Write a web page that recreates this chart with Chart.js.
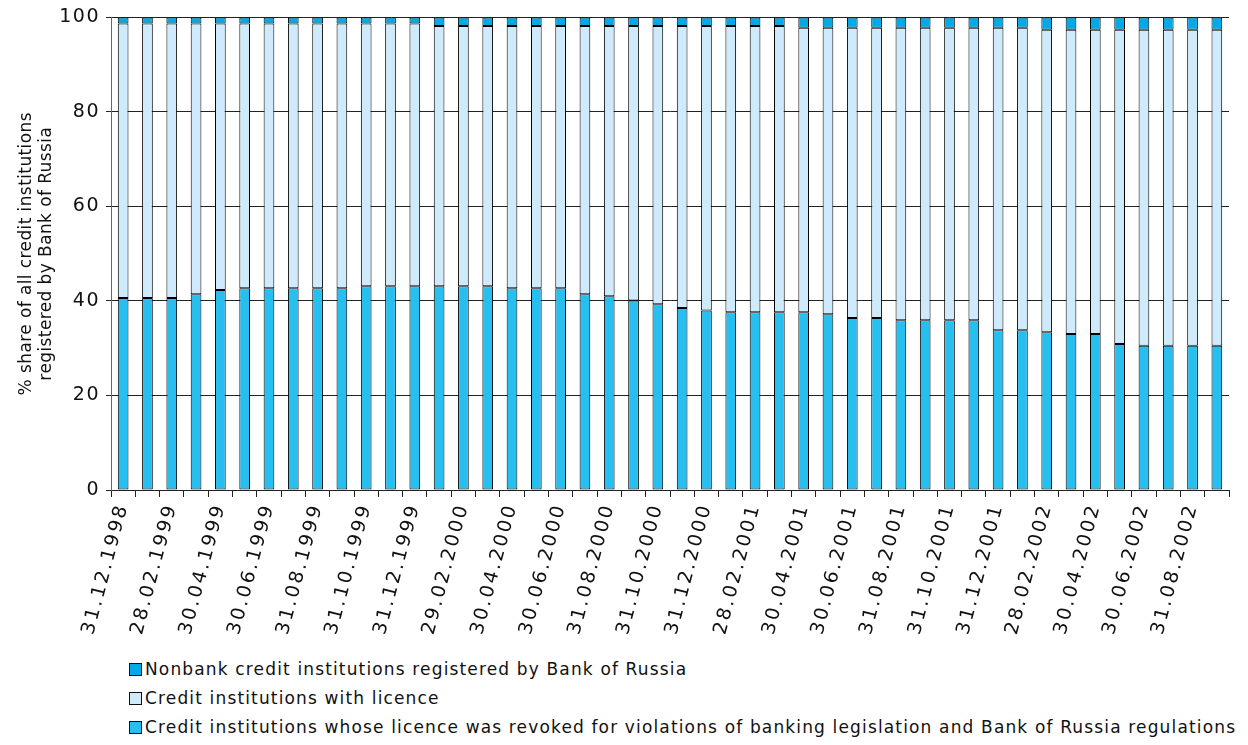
<!DOCTYPE html>
<html>
<head>
  <meta charset="UTF-8">
  <title>Credit institutions registered by Bank of Russia</title>
  <script src="https://cdn.jsdelivr.net/npm/chart.js"></script>
  <style>
    body {
      margin: 0;
      background: #fff;
      font-family: "DejaVu Sans", sans-serif;
    }
    #wrap {
      position: relative;
      width: 1248px;
      height: 745px;
    }
    #box {
      position: absolute;
      left: 0;
      top: 0;
      width: 1248px;
      height: 650px;
    }
    #legend {
      position: absolute;
      left: 129px;
      top: 655px;
      font-size: 17px;
      letter-spacing: 1.15px;
      color: #111;
    }
    .item {
      height: 29px;
      line-height: 29px;
      white-space: nowrap;
    }
    .sw {
      display: inline-block;
      width: 11px;
      height: 11px;
      border: 1px solid #111;
      margin-right: 3px;
      vertical-align: -1px;
    }
  </style>
</head>
<body>
<div id="wrap">
  <div id="box"><canvas id="barChart"></canvas></div>
  <div id="legend"></div>
</div>

<script>
  // monthly dates, Dec 1998 - Sep 2002
  const dates = [
    '31.12.1998',
    '31.01.1999', '28.02.1999', '31.03.1999', '30.04.1999', '31.05.1999', '30.06.1999',
    '31.07.1999', '31.08.1999', '30.09.1999', '31.10.1999', '30.11.1999', '31.12.1999',
    '31.01.2000', '29.02.2000', '31.03.2000', '30.04.2000', '31.05.2000', '30.06.2000',
    '31.07.2000', '31.08.2000', '30.09.2000', '31.10.2000', '30.11.2000', '31.12.2000',
    '31.01.2001', '28.02.2001', '31.03.2001', '30.04.2001', '31.05.2001', '30.06.2001',
    '31.07.2001', '31.08.2001', '30.09.2001', '31.10.2001', '30.11.2001', '31.12.2001',
    '31.01.2002', '28.02.2002', '31.03.2002', '30.04.2002', '31.05.2002', '30.06.2002',
    '31.07.2002', '31.08.2002', '30.09.2002'
  ];

  // % shares
  const revoked = [
    40.6, 40.6, 40.6, 41.4, 42.3, 42.7, 42.7, 42.7, 42.7, 42.7, 43.1, 43.1, 43.1,
    43.1, 43.1, 43.1, 42.7, 42.7, 42.7, 41.4, 41.0, 40.1, 39.3, 38.5, 38.0, 37.6,
    37.6, 37.6, 37.6, 37.2, 36.4, 36.4, 35.9, 35.9, 35.9, 35.9, 33.8, 33.8, 33.4,
    33.0, 33.0, 30.9, 30.5, 30.5, 30.5, 30.5
  ];
  const withLicence = [
    58.1, 58.1, 58.1, 57.3, 56.4, 56.0, 56.0, 56.0, 56.0, 56.0, 55.6, 55.6, 55.6,
    55.1, 55.1, 55.1, 55.5, 55.5, 55.5, 56.8, 57.2, 58.1, 58.9, 59.7, 60.2, 60.6,
    60.6, 60.6, 60.2, 60.6, 61.4, 61.4, 61.9, 61.9, 61.9, 61.9, 64.0, 64.0, 64.0,
    64.4, 64.4, 66.5, 66.9, 66.9, 66.9, 66.9
  ];
  const nonbank = [
    1.3, 1.3, 1.3, 1.3, 1.3, 1.3, 1.3, 1.3, 1.3, 1.3, 1.3, 1.3, 1.3,
    1.8, 1.8, 1.8, 1.8, 1.8, 1.8, 1.8, 1.8, 1.8, 1.8, 1.8, 1.8, 1.8,
    1.8, 1.8, 2.2, 2.2, 2.2, 2.2, 2.2, 2.2, 2.2, 2.2, 2.2, 2.2, 2.6,
    2.6, 2.6, 2.6, 2.6, 2.6, 2.6, 2.6
  ];
  const yTicks = [0, 20, 40, 60, 80, 100];

  const names = {
    nonbank: 'Nonbank credit institutions registered by Bank of Russia',
    licence: 'Credit institutions with licence',
    revoked: 'Credit institutions whose licence was revoked for violations of banking legislation and Bank of Russia regulations'
  };

  const FONT = '"DejaVu Sans", sans-serif';

  // wider text, like the original export
  const spacing = {
    id: 'spacing',
    beforeDraw(chart) {
      const set = [['x', 'drawLabels', '2.6px'], ['y', 'drawLabels', '1.5px'], ['y', 'drawTitle', '0.4px']];
      for (const [id, fn, sp] of set) {
        const s = chart.scales[id];
        const key = '_sp_' + fn;
        if (s[key]) continue;
        const orig = s[fn];
        s[fn] = function (a) {
          const c = this.ctx;
          c.save();
          c.letterSpacing = sp;
          orig.call(this, a);
          c.restore();
        };
        s[key] = true;
      }
    }
  };

  const bar = { borderColor: '#000', borderWidth: 1, borderSkipped: false, barPercentage: 0.44, categoryPercentage: 1 };

  const ctx = document.getElementById('barChart').getContext('2d');
  const chart = new Chart(ctx, {
    type: 'bar',
    data: {
      labels: dates,
      datasets: [
        Object.assign({ label: names.revoked, data: revoked, backgroundColor: '#27bfef' }, bar),
        Object.assign({ label: names.licence, data: withLicence, backgroundColor: '#cfebfb' }, bar),
        Object.assign({ label: names.nonbank, data: nonbank, backgroundColor: '#00a9e8' }, bar)
      ]
    },
    options: {
      responsive: true,
      maintainAspectRatio: false,
      animation: false,
      layout: { padding: { top: 15, right: 19, left: 0, bottom: 0 } },
      plugins: {
        legend: { display: false },
        tooltip: { enabled: false }
      },
      scales: {
        x: {
          stacked: true,
          offset: true,
          grid: { offset: true, drawOnChartArea: false, color: '#222', tickLength: 7 },
          border: { color: '#222' },
          ticks: {
            autoSkip: false,
            minRotation: 75,
            maxRotation: 75,
            padding: 4,
            color: '#111',
            font: { family: FONT, size: 19 },
            callback: function (v, i) { return i % 2 === 0 ? dates[i] : ''; }
          },
          afterFit: function (s) { s.height = 160; }
        },
        y: {
          stacked: true,
          min: 0,
          max: 100,
          afterBuildTicks: function (s) { s.ticks = yTicks.map(v => ({ value: v })); },
          grid: { color: '#222', tickLength: 5 },
          border: { color: '#666' },
          ticks: {
            padding: 6,
            color: '#111',
            font: { family: FONT, size: 19 }
          },
          title: {
            display: true,
            text: ['% share of all credit institutions', 'registered by Bank of Russia'],
            color: '#111',
            font: { family: FONT, size: 17, lineHeight: 1.15 },
            padding: { top: 17, bottom: 0 }
          },
          afterFit: function (s) { s.width = 111; }
        }
      }
    },
    plugins: [spacing]
  });

  // legend, top segment first
  const legend = document.getElementById('legend');
  chart.data.datasets.slice().reverse().forEach(ds => {
    const row = document.createElement('div');
    row.className = 'item';
    const sw = document.createElement('span');
    sw.className = 'sw';
    sw.style.background = ds.backgroundColor;
    row.appendChild(sw);
    row.appendChild(document.createTextNode(ds.label));
    legend.appendChild(row);
  });
</script>
</body>
</html>
